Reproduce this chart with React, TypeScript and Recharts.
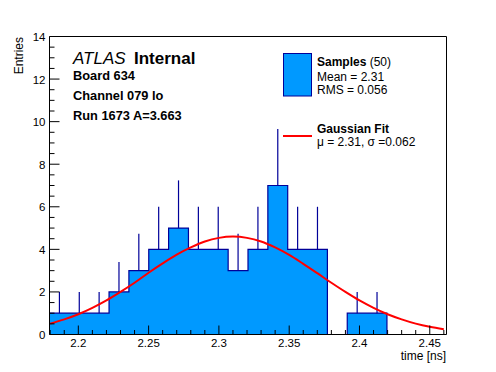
import { ComposedChart, Area, Line, Scatter, ErrorBar, XAxis, YAxis, ReferenceLine } from "recharts";

const FONT = '"Liberation Sans", Arial, Helvetica, sans-serif';
const FILL = "#0099ff";
const NAVY = "#000099";

// histogram range and binning (20 bins)
const X_MIN = 2.1795;
const X_MAX = 2.4619;
const BIN_WIDTH = (X_MAX - X_MIN) / 20;

const binCounts = [1, 1, 1, 2, 3, 4, 5, 4, 4, 3, 4, 7, 4, 4, 0, 1, 1, 0, 0, 0];
const binErrors = [1, 1, 1, 1.41, 1.73, 2, 2.24, 2, 2, 1.73, 2, 2.65, 2, 2, 0, 1, 1, 0, 0, 0];

// gaussian fit
const fitX = [2.18, 2.19, 2.2, 2.21, 2.22, 2.23, 2.24, 2.25, 2.26, 2.27, 2.28, 2.29, 2.3, 2.31, 2.32, 2.33, 2.34, 2.35, 2.36, 2.37, 2.38, 2.39, 2.4, 2.41, 2.42, 2.43, 2.44, 2.45, 2.46];
const fitY = [0.51, 0.71, 0.95, 1.25, 1.6, 2.0, 2.43, 2.9, 3.34, 3.75, 4.09, 4.37, 4.54, 4.6, 4.54, 4.37, 4.09, 3.74, 3.32, 2.88, 2.43, 2.0, 1.6, 1.25, 0.95, 0.71, 0.51, 0.36, 0.25];

const xTicks = [2.18, 2.19, 2.2, 2.21, 2.22, 2.23, 2.24, 2.25, 2.26, 2.27, 2.28, 2.29, 2.3, 2.31, 2.32, 2.33, 2.34, 2.35, 2.36, 2.37, 2.38, 2.39, 2.4, 2.41, 2.42, 2.43, 2.44, 2.45, 2.46];
const xLabels = ["2.2", "2.25", "2.3", "2.35", "2.4", "2.45"];
const yTicks = [0, 0.5, 1, 1.5, 2, 2.5, 3, 3.5, 4, 4.5, 5, 5.5, 6, 6.5, 7, 7.5, 8, 8.5, 9, 9.5, 10, 10.5, 11, 11.5, 12, 12.5, 13, 13.5, 14];
const yLabels = [0, 2, 4, 6, 8, 10, 12, 14];

const histData = binCounts
    .map((n, i) => ({ x: X_MIN + i * BIN_WIDTH, n }))
    .concat([{ x: X_MAX, n: binCounts[binCounts.length - 1] }]);

const errData = binCounts
    .map((n, i) => ({ x: X_MIN + (i + 0.5) * BIN_WIDTH, n, err: [0, binErrors[i]] }))
    .filter((d) => d.n > 0);

const fitData = fitX.map((x, i) => ({ x, fit: fitY[i] }));

function XTick(props: any) {
    const { x, y, payload } = props;
    const label = xLabels.find((l) => Math.abs(parseFloat(l) - payload.value) < 1e-6);
    return (
        <g>
            <line x1={x} x2={x} y1={y} y2={y - (label ? 9 : 4.5)} stroke="#000" />
            {label && (
                <text x={x} y={y + 12} textAnchor="middle" fontSize={11.5} fontFamily={FONT} fill="#000">
                    {label}
                </text>
            )}
        </g>
    );
}

function YTick(props: any) {
    const { x, y, payload } = props;
    const major = yLabels.includes(payload.value);
    return (
        <g>
            <line x1={x} x2={x + (major ? 10 : 5)} y1={y} y2={y} stroke="#000" />
            {major && (
                <text x={x - 4} y={y + 4.5} textAnchor="end" fontSize={11.5} fontFamily={FONT} fill="#000">
                    {payload.value}
                </text>
            )}
        </g>
    );
}

export default function App() {
    return (
        <div style={{ position: "absolute", left: 0, top: 0, width: 496, height: 372, background: "#fff" }}>
            <ComposedChart
                width={496}
                height={372}
                margin={{ top: 36.5, right: 49.5, bottom: 0, left: 0 }}
            >
                <Area
                    data={histData}
                    dataKey="n"
                    type="stepAfter"
                    fill={FILL}
                    fillOpacity={1}
                    stroke={NAVY}
                    strokeWidth={1.2}
                    isAnimationActive={false}
                />
                <Scatter data={errData} dataKey="n" shape={() => <g />} isAnimationActive={false}>
                    <ErrorBar dataKey="err" direction="y" width={0} stroke={NAVY} strokeWidth={1.2} />
                </Scatter>
                <Line
                    data={fitData}
                    dataKey="fit"
                    type="monotone"
                    stroke="#ff0000"
                    strokeWidth={2}
                    dot={false}
                    isAnimationActive={false}
                />
                <ReferenceLine y={14} stroke="#000" />
                <ReferenceLine x={X_MAX} stroke="#000" />
                <XAxis
                    dataKey="x"
                    type="number"
                    domain={[X_MIN, X_MAX]}
                    ticks={xTicks}
                    interval={0}
                    height={37.5}
                    tickSize={0}
                    tickMargin={0}
                    tickLine={false}
                    tick={<XTick />}
                    axisLine={{ stroke: "#000" }}
                    allowDataOverflow
                />
                <YAxis
                    type="number"
                    domain={[0, 14]}
                    ticks={yTicks}
                    interval={0}
                    width={49.5}
                    tickSize={0}
                    tickMargin={0}
                    tickLine={false}
                    tick={<YTick />}
                    axisLine={{ stroke: "#000" }}
                    allowDataOverflow
                />
            </ComposedChart>
            <svg
                width={496}
                height={372}
                style={{ position: "absolute", left: 0, top: 0, pointerEvents: "none" }}
                fontFamily={FONT}
            >
                <text x={73} y={64} fontSize={17} fontStyle="italic">ATLAS</text>
                <text x={134} y={64} fontSize={17} fontWeight="bold">Internal</text>
                <text x={73} y={80} fontSize={12.8} fontWeight="bold">Board 634</text>
                <text x={73} y={100} fontSize={12.8} fontWeight="bold">Channel 079 lo</text>
                <text x={73} y={120} fontSize={12.8} fontWeight="bold">Run 1673 A=3.663</text>

                <rect x={283.5} y={53.5} width={28} height={42.5} fill={FILL} stroke={NAVY} />
                <text x={317} y={66} fontSize={12}>
                    <tspan fontWeight="bold">Samples</tspan> (50)
                </text>
                <text x={317} y={80.5} fontSize={12}>Mean = 2.31</text>
                <text x={317} y={93.5} fontSize={12}>RMS = 0.056</text>

                <line x1={283} x2={312} y1={136} y2={136} stroke="#ff0000" strokeWidth={2} />
                <text x={317} y={133} fontSize={12} fontWeight="bold">Gaussian Fit</text>
                <text x={317} y={146} fontSize={12}>μ = 2.31, σ =0.062</text>

                <text transform="translate(23,37) rotate(-90)" textAnchor="end" fontSize={12}>Entries</text>
                <text x={446} y={359.5} textAnchor="end" fontSize={12}>time [ns]</text>
            </svg>
        </div>
    );
}
